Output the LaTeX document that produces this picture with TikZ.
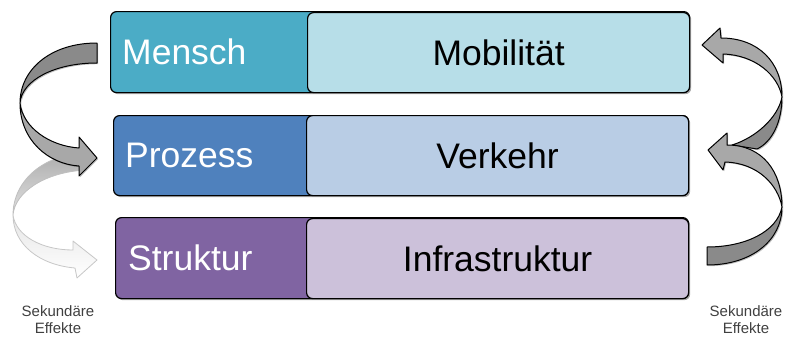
\documentclass[tikz,border=0pt]{standalone}
\usepackage{fontspec}
\setmainfont{Liberation Sans}
\usetikzlibrary{shadows,calc}
\definecolor{menschC}{HTML}{4BACC6}
\definecolor{mobC}{HTML}{B7DEE8}
\definecolor{prozC}{HTML}{4F81BD}
\definecolor{verkC}{HTML}{B9CDE5}
\definecolor{strukC}{HTML}{8064A2}
\definecolor{infraC}{HTML}{CCC1DA}
\definecolor{bandDark}{HTML}{8A8A8A}
\definecolor{bandLight}{HTML}{A8A8A8}
\definecolor{noteC}{HTML}{404040}
\begin{document}
\begin{tikzpicture}[x=1pt,y=-1pt,
  outerbox/.style={draw=black, line width=1.2pt, rounded corners=6pt, inner sep=0pt, anchor=north west,
    drop shadow={shadow xshift=1.6pt,shadow yshift=-1.6pt,opacity=0.35,fill=black}},
  innerbox/.style={draw=black, line width=1.2pt, rounded corners=6pt, inner sep=0pt, anchor=north west,
    font=\fontsize{35.5}{40}\selectfont, text=black},
  leftlbl/.style={font=\fontsize{35.5}{40}\selectfont, text=white, inner sep=0pt, anchor=west},
  bandD/.style={draw=black, line width=1pt, line join=round, fill=bandDark,
    drop shadow={shadow xshift=1.2pt,shadow yshift=-1.2pt,opacity=0.25,fill=black}},
  bandL/.style={draw=black, line width=1pt, line join=round, fill=bandLight,
    drop shadow={shadow xshift=1.2pt,shadow yshift=-1.2pt,opacity=0.25,fill=black}},
  ghostA/.style={draw=black!25, line width=0.8pt, line join=round, top color=black!32, bottom color=black!12},
  ghostB/.style={draw=black!22, line width=0.8pt, line join=round, top color=black!10, bottom color=white},
  note/.style={font=\fontsize{15}{17}\selectfont, text=noteC, align=center, inner sep=0pt}
]
\useasboundingbox (0,0) rectangle (785,338);

% secondary (faded) arrow on the left
\path[ghostA] (88,153) .. controls (45,153) and (13,180) .. (13,215)
  .. controls (15,192) and (45,172) .. (86,170) -- cycle;
\path[ghostB] (13,215) .. controls (13,245) and (40,265) .. (75,268) -- (77,278) -- (97,260) -- (73,241) -- (73,250)
  .. controls (42,250) and (16,236) .. (13,215) -- cycle;

% dark arrow on the left
\path[bandD] (97,43) .. controls (50,43) and (20,70) .. (20,103)
  .. controls (22,80) and (55,63) .. (97,63) -- cycle;
\path[bandL] (20,103) .. controls (20,140) and (48,164) .. (79,166) -- (79,176) -- (97,158) -- (79,137) -- (79,148)
  .. controls (50,146) and (23,128) .. (20,103) -- cycle;

% right upper arrow (Verkehr -> Mobilitaet)
\path[bandD] (782,97) .. controls (782,122) and (772,142) .. (757,149) -- (732,145)
  .. controls (755,138) and (778,118) .. (782,97) -- cycle;
\path[bandL] (721,38) .. controls (758,38) and (782,62) .. (782,97)
  .. controls (778,75) and (755,55) .. (723,54) -- (723,63) -- (702,45) -- (720,28) -- cycle;

% right lower arrow (Infrastruktur -> Verkehr)
\path[bandD] (782,207) .. controls (782,240) and (752,265) .. (707,265) -- (707,247)
  .. controls (745,247) and (777,232) .. (782,207) -- cycle;
\path[bandL] (727,145) .. controls (763,145) and (782,172) .. (782,207)
  .. controls (778,185) and (758,163) .. (725,162) -- (723,170) -- (708,150) -- (727,133) -- cycle;

% row 1
\node[outerbox, fill=menschC, minimum width=579pt, minimum height=81pt] (mensch) at (110,11) {};
\node[innerbox, fill=mobC, minimum width=382pt, minimum height=80pt] (mob) at (307,12) {Mobilität};
\node[leftlbl] (menschT) at ($(mensch.west)+(12,0)$) {Mensch};

% row 2
\node[outerbox, fill=prozC, minimum width=575pt, minimum height=80pt] (proz) at (113,115) {};
\node[innerbox, fill=verkC, minimum width=382pt, minimum height=80pt] (verk) at (306,115) {Verkehr};
\node[leftlbl] (prozT) at ($(proz.west)+(12,0)$) {Prozess};

% row 3
\node[outerbox, fill=strukC, minimum width=573pt, minimum height=81pt] (struk) at (115,217) {};
\node[innerbox, fill=infraC, minimum width=382pt, minimum height=80pt] (infra) at (306,218) {Infrastruktur};
\node[leftlbl] (strukT) at ($(struk.west)+(13,0)$) {Struktur};

% notes
\node[note] (sekL) at (58,320) {Sekundäre\\Effekte};
\node[note] (sekR) at (746,320) {Sekundäre\\Effekte};
\end{tikzpicture}
\end{document}
